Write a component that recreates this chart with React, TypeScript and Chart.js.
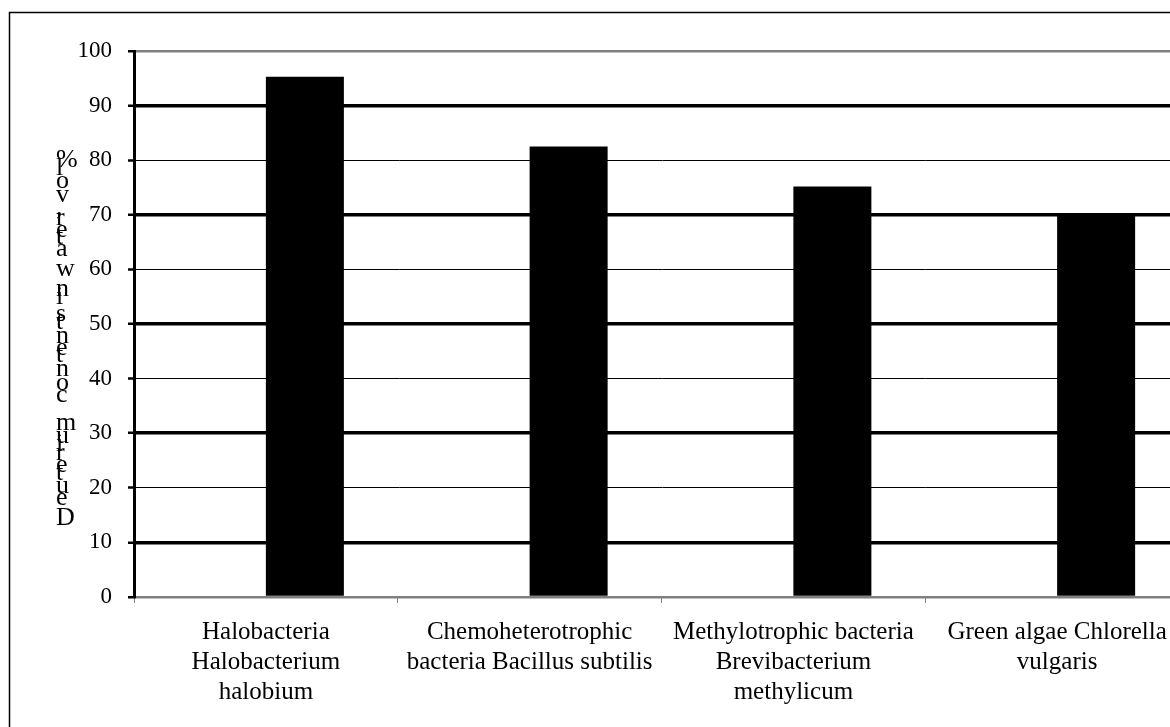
import React, { useEffect, useRef } from "react";
import { Chart, registerables } from "chart.js";

Chart.register(...registerables);

// ---- data ----
const categories: string[][] = [
  ["Halobacteria", "Halobacterium", "halobium"],
  ["Chemoheterotrophic", "bacteria Bacillus subtilis"],
  ["Methylotrophic bacteria", "Brevibacterium", "methylicum"],
  ["Green algae Chlorella", "vulgaris"],
];
const spacerSeries: (number | null)[] = [null, null, null, null];
const deuteriumContent: number[] = [95.3, 82.5, 75.2, 70.2];
const yMin = 0;
const yMax = 100;
const yStep = 10;
const thickGridValues: number[] = [10, 30, 50, 70, 90];
const grayGridValues: number[] = [0, 100];
const yAxisTitle = "Deuterium contents in water, vol%";

const FONT = "Liberation Serif";

const framePlugin = {
  id: "frameAndTitle",
  afterDraw(chart: any) {
    const ctx = chart.ctx as CanvasRenderingContext2D;
    const area = chart.chartArea;
    ctx.save();
    // outer frame
    ctx.strokeStyle = "#000";
    ctx.lineWidth = 1.5;
    ctx.strokeRect(9.5, 12.5, chart.width, chart.height);
    // stacked vertical axis title (upright glyphs, reading bottom to top)
    ctx.font = `26px "${FONT}"`;
    ctx.fillStyle = "#000";
    ctx.textAlign = "left";
    ctx.textBaseline = "alphabetic";
    const chars = Array.from(yAxisTitle);
    const widths = chars.map((c) => ctx.measureText(c).width);
    const bottom = area.bottom - 72;
    const lastBase = area.top + 116;
    const adv = widths.slice(0, -1).reduce((a, b) => a + b, 0);
    const k = (bottom - lastBase) / adv;
    let y = bottom;
    chars.forEach((c, i) => {
      if (c !== " ") ctx.fillText(c, 56, y);
      y -= widths[i] * k;
    });
    ctx.restore();
  },
};

export default function App() {
  const ref = useRef<HTMLCanvasElement | null>(null);

  useEffect(() => {
    if (!ref.current) return;
    const chart = new Chart(ref.current, {
      type: "bar",
      data: {
        labels: categories as any,
        datasets: [
          {
            label: "spacer",
            data: spacerSeries as any,
            backgroundColor: "#000",
          },
          {
            label: "Deuterium content",
            data: deuteriumContent,
            backgroundColor: "#000",
            borderWidth: 0,
          },
        ],
      },
      options: {
        responsive: false,
        animation: false,
        layout: { padding: { left: 0, top: 51, right: 111, bottom: 0 } },
        plugins: {
          legend: { display: false },
          tooltip: { enabled: false },
          title: { display: false },
        },
        datasets: {
          bar: { barPercentage: 1, categoryPercentage: 0.5915 },
        },
        scales: {
          x: {
            grid: {
              display: true,
              drawOnChartArea: false,
              drawTicks: true,
              tickLength: 6,
              tickColor: "#808080",
              tickWidth: 1,
              offset: true,
            },
            border: { display: true, color: "#808080", width: 2 },
            ticks: {
              font: { family: FONT, size: 25, lineHeight: 1.2 },
              color: "#000",
              padding: 14,
              maxRotation: 0,
              minRotation: 0,
              autoSkip: false,
            },
            afterFit: (s: any) => {
              s.height = 203;
            },
          },
          y: {
            min: yMin,
            max: yMax,
            ticks: {
              stepSize: yStep,
              font: { family: FONT, size: 23 },
              color: "#000",
              padding: 16,
            },
            grid: {
              color: (c: any) =>
                grayGridValues.includes(c.tick?.value) ? "#808080" : "#000",
              lineWidth: (c: any) =>
                grayGridValues.includes(c.tick?.value)
                  ? 2.5
                  : thickGridValues.includes(c.tick?.value)
                  ? 3.5
                  : 1,
              tickColor: "#000",
              tickWidth: 2.5,
              tickLength: 6,
            },
            border: { display: true, color: "#000", width: 3 },
            afterFit: (s: any) => {
              s.width = 134;
            },
          },
        },
      },
      plugins: [framePlugin],
    });
    return () => chart.destroy();
  }, []);

  return (
    <div
      style={{
        position: "fixed",
        left: 0,
        top: 0,
        width: "100vw",
        height: "100vh",
        overflow: "hidden",
        background: "#fff",
      }}
    >
      <canvas
        ref={ref}
        width={1300}
        height={800}
        style={{ display: "block", width: 1300, height: 800 }}
      />
    </div>
  );
}
